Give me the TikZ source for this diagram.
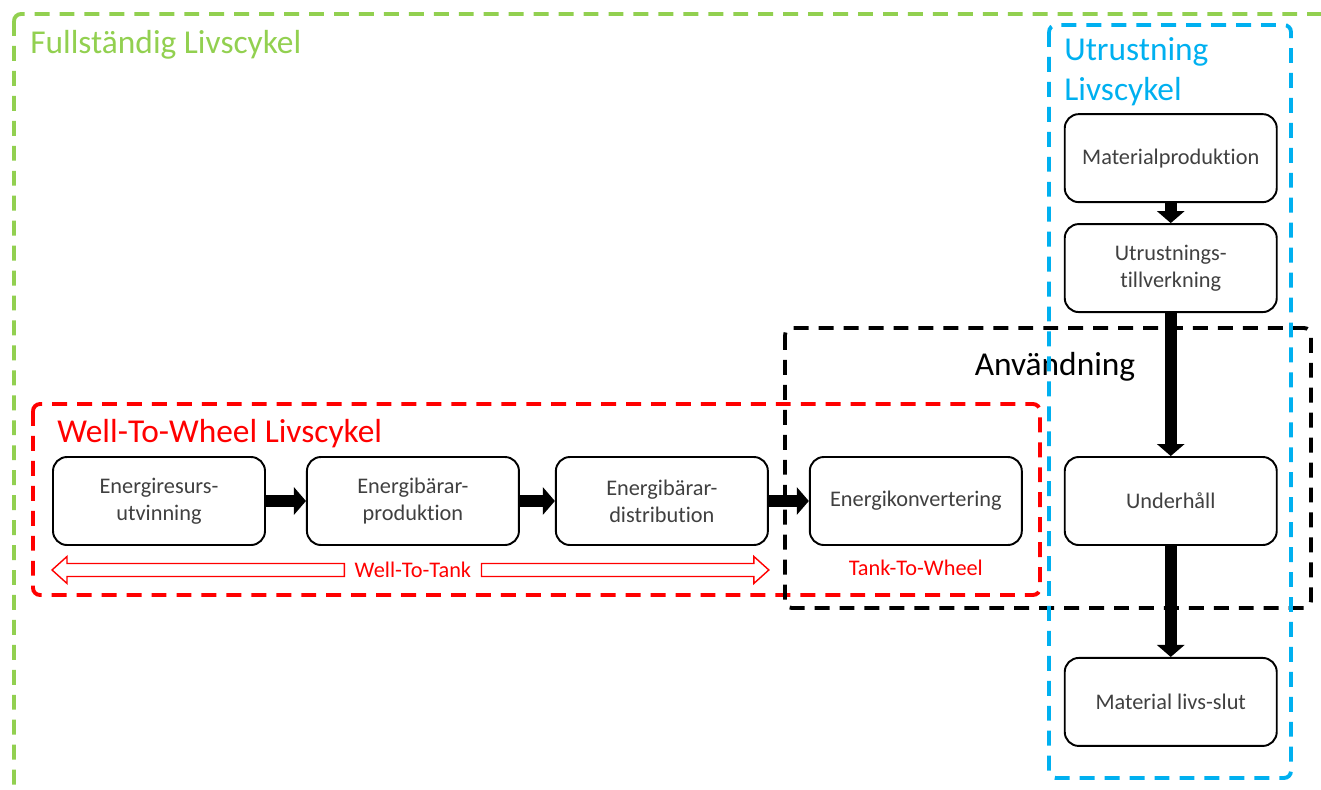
\documentclass[tikz,border=0pt]{standalone}
\usepackage{fontspec}
\setmainfont{Carlito}[Ligatures=NoCommon]
\usepackage{xcolor}
\usepackage{tikz}
\usetikzlibrary{arrows.meta, positioning, calc}
\definecolor{lcgreen}{HTML}{92D050}
\definecolor{lcblue}{HTML}{00B0F0}
\definecolor{lcred}{HTML}{FF0000}
\definecolor{boxtext}{HTML}{404040}
\tikzstyle{stagebox} = [rectangle, rounded corners=8pt, minimum width=4.24cm, minimum height=1.76cm,
  text centered, align=center, draw=black, fill=white, text=boxtext, line width=1.1pt,
  font=\fontsize{12.7}{15.5}\selectfont]
\tikzstyle{lcframe} = [line width=2.2pt, rounded corners=4pt, dash pattern=on 8.5pt off 5.7pt]
\tikzstyle{lctitle} = [font=\fontsize{19}{22.7}\selectfont, inner sep=0pt]
\tikzstyle{blockarrow} = [line width=0.24cm, -{Triangle[length=0.24cm, width=0.54cm]}]
\tikzstyle{hollowarrow} = [draw=lcred, fill=white, line width=0.8pt, line join=miter]
\tikzstyle{wlabel} = [text=lcred, font=\fontsize{12.7}{15}\selectfont, inner xsep=0.2cm]

\begin{document}
\begin{tikzpicture}

  \useasboundingbox (0,0) rectangle (26.42,-15.78);
  \clip (0,0) rectangle (26.42,-15.78);

  % === FRAMES ===
  \draw[lcframe, lcgreen] (0.28,-0.28) rectangle (26.8,-16.2);
  \draw[lcframe, lcred]   (0.66,-8.08) rectangle (20.8,-11.9);
  \draw[lcframe, black]   (15.7,-6.56) rectangle (26.22,-12.16);

  \node (tfull) [lctitle, text=lcgreen, anchor=base west] at (0.6,-1.06) {Fullständig Livscykel};
  \node (tutr1) [lctitle, text=lcblue, anchor=base west] at (21.28,-1.2) {Utrustning};
  \node (tutr2) [lctitle, text=lcblue, anchor=base west] at (21.28,-2.0) {Livscykel};
  \node (tanv) [lctitle, text=black, anchor=base] at (21.1,-7.5) {Användning};
  \node (twtw) [lctitle, text=lcred, anchor=base west] at (1.14,-8.84) {Well-To-Wheel Livscykel};

  \draw[lcframe, lcblue]  (20.98,-0.5) rectangle (25.82,-15.56);

  % === ENERGY CHAIN ===
  \node (b1) [stagebox] at (3.18,-10.02) {Energiresurs-\\utvinning};
  \node (b2) [stagebox, right=0.80cm of b1] {Energibärar-\\produktion};
  \node (b3) [stagebox, right=0.70cm of b2] {Energibärar-\\distribution};
  \node (b4) [stagebox, right=0.80cm of b3] {Energikonvertering};

  % === EQUIPMENT CHAIN ===
  \node (und) [stagebox, right=0.82cm of b4] {Underhåll};
  \node (utr) [stagebox, above=2.86cm of und] {Utrustnings-\\tillverkning};
  \node (mat) [stagebox, above=0.40cm of utr] {Materialproduktion};
  \node (eol) [stagebox, below=2.22cm of und] {Material livs-slut};

  % === SUB-LABELS ===
  \node (wtt) [wlabel] at ($(b2.south)+(0,-0.48)$) {Well-To-Tank};
  \node (ttw) [wlabel] at ($(b4.south)+(0,-0.44)$) {Tank-To-Wheel};

  \coordinate (wl) at (b1.west |- wtt);
  \coordinate (wr) at (b3.east |- wtt);
  \draw[hollowarrow] (wl) -- ++(0.3,0.27) -- ++(0,-0.14) -- ($(wtt.west)+(0,0.13)$)
    -- ++(0,-0.26) -- ($(wl)+(0.3,-0.13)$) -- ++(0,-0.14) -- cycle;
  \draw[hollowarrow] (wr) -- ++(-0.3,0.27) -- ++(0,-0.14) -- ($(wtt.east)+(0,0.13)$)
    -- ++(0,-0.26) -- ($(wr)+(-0.3,-0.13)$) -- ++(0,-0.14) -- cycle;

  % === ARROWS ===
  \draw[blockarrow] (b1) -- (b2);
  \draw[blockarrow] (b2) -- (b3);
  \draw[blockarrow] (b3) -- (b4);
  \draw[blockarrow] (mat) -- (utr);
  \draw[blockarrow] (utr) -- (und);
  \draw[blockarrow] (und) -- (eol);

\end{tikzpicture}
\end{document}
